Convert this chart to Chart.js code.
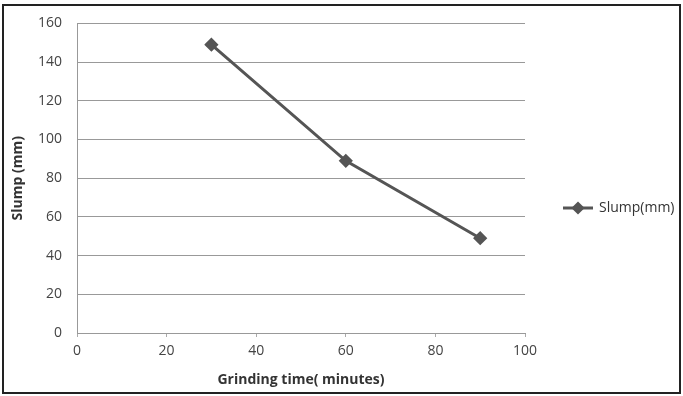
<!DOCTYPE html>
<html>
<head>
<meta charset="utf-8">
<script src="https://cdn.jsdelivr.net/npm/chart.js@4"></script>
<style>
    html, body { margin: 0; padding: 0; background: #fff; }
    #wrap { position: relative; width: 683px; height: 396px; }
</style>
</head>
<body>
<div id="wrap"><canvas id="myChart" width="683" height="396"></canvas></div>
<script>
// data
var times = [30, 60, 90];
var slump = [149, 89, 49];
var xTicks = [0, 20, 40, 60, 80, 100];
var yTicks = [0, 20, 40, 60, 80, 100, 120, 140, 160];

var FONT = '"Open Sans", Lato, sans-serif';
var LINE = '#555555';

var points = [];
for (var i = 0; i < times.length; i++)
    points.push({x: times[i], y: slump[i]});

// outer frame + legend on the right, like the office chart
var framePlugin = {
    id: 'frame',
    beforeDraw: function (chart) {
        var ctx = chart.ctx;
        ctx.save();
        ctx.fillStyle = '#fff';
        ctx.fillRect(0, 0, chart.width, chart.height);
        ctx.strokeStyle = '#222';
        ctx.lineWidth = 2;
        ctx.strokeRect(3, 5, 677, 388);
        ctx.restore();
    },
    afterDraw: function (chart) {
        var ctx = chart.ctx;
        var ds = chart.data.datasets[0];
        var y = 208;
        ctx.save();
        ctx.strokeStyle = LINE;
        ctx.lineWidth = 3;
        ctx.beginPath();
        ctx.moveTo(563, y);
        ctx.lineTo(593, y);
        ctx.stroke();
        Chart.helpers.drawPoint(ctx, {pointStyle: 'rectRot', radius: 4.5, borderWidth: 1}, 578, y);
        ctx.fillStyle = LINE;
        ctx.fill();
        ctx.fillStyle = '#333';
        ctx.font = '14px ' + FONT;
        ctx.textAlign = 'left';
        ctx.textBaseline = 'middle';
        ctx.fillText(ds.label, 599, y);
        ctx.restore();
    }
};

var ctx = document.getElementById("myChart").getContext('2d');
var myChart = new Chart(ctx, {
    type: 'line',
    data: {
        datasets: [{
            label: 'Slump(mm)',
            data: points,
            borderColor: LINE,
            backgroundColor: LINE,
            borderWidth: 3,
            pointStyle: 'rectRot',
            pointRadius: 5,
            pointBackgroundColor: LINE,
            pointBorderColor: LINE,
            tension: 0
        }]
    },
    options: {
        responsive: false,
        animation: false,
        layout: {padding: {top: 22, right: 158, left: 0, bottom: 0}},
        plugins: {
            legend: {display: false},
            tooltip: {enabled: false}
        },
        scales: {
            x: {
                type: 'linear',
                min: xTicks[0],
                max: xTicks[xTicks.length - 1],
                afterBuildTicks: function (scale) {
                    scale.ticks = xTicks.map(function (v) { return {value: v}; });
                },
                afterFit: function (scale) { scale.height = 63; },
                grid: {
                    drawOnChartArea: false,
                    drawTicks: true,
                    tickLength: 4,
                    color: '#aaa'
                },
                border: {color: '#999', width: 1},
                ticks: {
                    color: '#444',
                    padding: 6,
                    maxRotation: 0,
                    font: {family: FONT, size: 14}
                },
                title: {
                    display: true,
                    text: 'Grinding time( minutes)',
                    color: '#333',
                    padding: {top: 4, bottom: 8},
                    font: {family: FONT, size: 14, weight: 'bold'}
                }
            },
            y: {
                min: yTicks[0],
                max: yTicks[yTicks.length - 1],
                afterBuildTicks: function (scale) {
                    scale.ticks = yTicks.map(function (v) { return {value: v}; });
                },
                afterFit: function (scale) { scale.width = 77; },
                grid: {
                    drawTicks: false,
                    color: '#999',
                    lineWidth: 1
                },
                border: {color: '#999', width: 1},
                ticks: {
                    color: '#444',
                    padding: 15,
                    font: {family: FONT, size: 14}
                },
                title: {
                    display: true,
                    text: 'Slump (mm)',
                    color: '#333',
                    padding: {top: 10, bottom: 0},
                    font: {family: FONT, size: 14, weight: 'bold'}
                }
            }
        }
    },
    plugins: [framePlugin]
});
</script>
</body>
</html>
